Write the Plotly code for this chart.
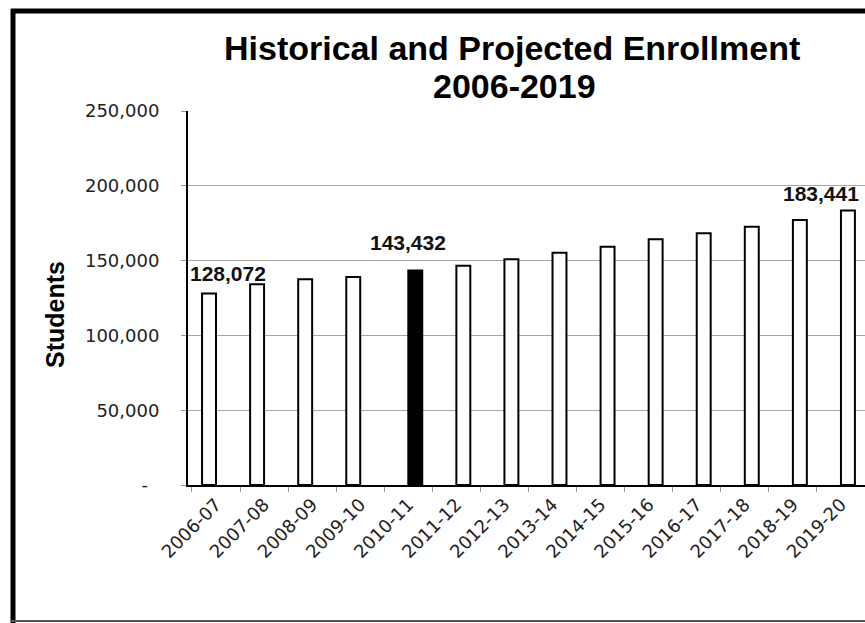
import plotly.graph_objects as go

categories = ["2006-07", "2007-08", "2008-09", "2009-10", "2010-11", "2011-12", "2012-13",
              "2013-14", "2014-15", "2015-16", "2016-17", "2017-18", "2018-19", "2019-20"]
historical = [128072, 134200, 137500, 139000, None, None, None,
              None, None, None, None, None, None, None]
projected = [None, None, None, None, 143432, 146600, 150900,
             155300, 159300, 164200, 168200, 172700, 177100, 183441]
labeled_idx = [0, 4, 13]
label_series = ["historical", "projected", "projected"]
y_tickvals = [0, 50000, 100000, 150000, 200000, 250000]
y_ticktext = ["-\u00a0\u00a0", "50,000", "100,000", "150,000", "200,000", "250,000"]
title_line1 = "Historical and Projected Enrollment"
title_line2 = "2006-2019"

W, H = 865, 623
L, R, T, B = 188, 0, 111, 138
pw, ph = W - L - R, H - T - B

def px_x(x):
    return (x - L) / pw

def px_y(y):
    return (H - B - y) / ph

proj_colors = ["black" if c == "2010-11" else "white" for c in categories]

fig = go.Figure()
fig.add_trace(go.Bar(x=categories, y=historical, name="Historical",
                     marker=dict(color="white", line=dict(color="black", width=2))))
fig.add_trace(go.Bar(x=categories, y=projected, name="Projected",
                     marker=dict(color=proj_colors, line=dict(color="black", width=2))))

label_style = [dict(xshift=12, yshift=6), dict(xshift=0, yshift=14), dict(xshift=-20, yshift=4)]
for i, s, st in zip(labeled_idx, label_series, label_style):
    v = historical[i] if s == "historical" else projected[i]
    fig.add_annotation(x=categories[i], y=v, text=f"{v:,}", showarrow=False,
                       yanchor="bottom", xanchor="center",
                       xshift=st["xshift"], yshift=st["yshift"],
                       font=dict(family="Liberation Sans", size=21, color="#111", weight="bold"))

title_font = dict(family="Liberation Sans", size=34, color="black", weight="bold")
fig.add_annotation(xref="paper", yref="paper", x=px_x(512), y=px_y(48), text=title_line1,
                   showarrow=False, xanchor="center", yanchor="middle", font=title_font)
fig.add_annotation(xref="paper", yref="paper", x=px_x(514), y=px_y(86), text=title_line2,
                   showarrow=False, xanchor="center", yanchor="middle", font=title_font)

fig.add_annotation(xref="paper", yref="paper", x=px_x(55), y=px_y(315), text="Students",
                   textangle=-90, showarrow=False, xanchor="center", yanchor="middle",
                   font=dict(family="Liberation Sans", size=25, color="black", weight="bold"))

# outer frame
fig.add_shape(type="line", xref="paper", yref="paper", x0=px_x(13), x1=px_x(13),
              y0=px_y(625), y1=px_y(9), line=dict(color="black", width=5))
fig.add_shape(type="line", xref="paper", yref="paper", x0=px_x(11), x1=px_x(870),
              y0=px_y(11), y1=px_y(11), line=dict(color="black", width=5))
fig.add_shape(type="line", xref="paper", yref="paper", x0=px_x(11), x1=px_x(870),
              y0=px_y(621), y1=px_y(621), line=dict(color="#555", width=2))

fig.update_layout(
    width=W, height=H,
    margin=dict(l=L, r=R, t=T, b=B, autoexpand=False),
    paper_bgcolor="white", plot_bgcolor="white",
    showlegend=False,
    barmode="group", bargap=0.42, bargroupgap=0,
    xaxis=dict(type="category", showline=True, linecolor="black", linewidth=2,
               ticks="outside", tickson="boundaries", ticklen=5, tickcolor="#999",
               tickangle=-45, showgrid=False,
               tickfont=dict(family="DejaVu Sans", size=18, color="#222")),
    yaxis=dict(range=[0, 250000], tickvals=y_tickvals, ticktext=y_ticktext,
               showline=True, linecolor="black", linewidth=2,
               ticks="outside", ticklen=5, tickcolor="#999",
               ticklabelstandoff=18,
               showgrid=True, gridcolor="#a6a6a6", gridwidth=1, zeroline=False,
               tickfont=dict(family="DejaVu Sans", size=18, color="#222")),
)

fig.write_html("out.html", config={"displayModeBar": False},
               post_script="document.body.style.margin='0px';")
